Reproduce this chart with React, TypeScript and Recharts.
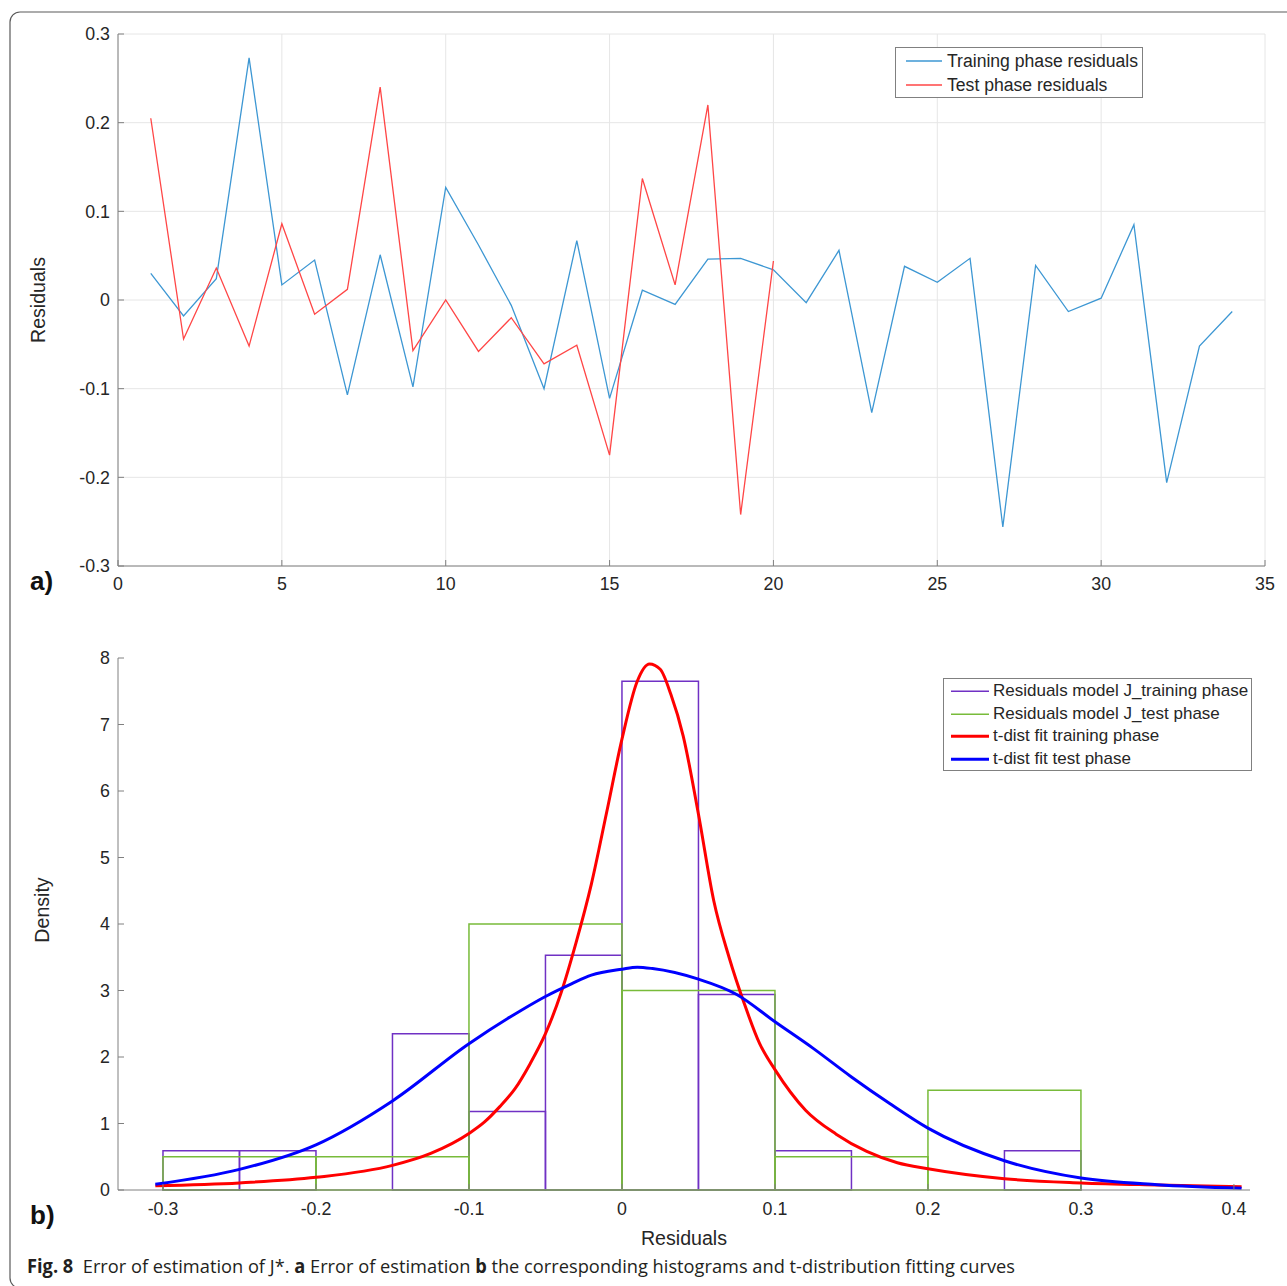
import React from 'react';
import {
  LineChart,
  ComposedChart,
  Line,
  XAxis,
  YAxis,
  CartesianGrid,
  Legend,
  ReferenceArea,
} from 'recharts';

const FONT = '"Liberation Sans", Arial, Helvetica, sans-serif';
const AXIS = '#808080';
const TEXT = '#262626';
const BLUE = '#3d97d3';
const RED = '#ff4646';
const PURPLE = '#7031c4';
const GREEN = '#78bb3a';

// ---- panel a: residuals per sample ----
const sampleIdx = [
  1, 2, 3, 4, 5, 6, 7, 8, 9, 10, 11, 12, 13, 14, 15, 16, 17,
  18, 19, 20, 21, 22, 23, 24, 25, 26, 27, 28, 29, 30, 31, 32, 33, 34,
];
const trainResid = [
  0.030, -0.018, 0.024, 0.273, 0.017, 0.045, -0.107, 0.051, -0.098, 0.127, 0.062, -0.006,
  -0.100, 0.067, -0.111, 0.011, -0.005, 0.046, 0.047, 0.034, -0.003, 0.056, -0.127, 0.038,
  0.020, 0.047, -0.256, 0.039, -0.013, 0.002, 0.085, -0.206, -0.052, -0.013,
];
const testResid = [
  0.205, -0.044, 0.036, -0.052, 0.086, -0.016, 0.012, 0.240, -0.057, 0.000,
  -0.058, -0.020, -0.072, -0.051, -0.175, 0.137, 0.017, 0.220, -0.242, 0.044,
];
const idxTicks = [0, 5, 10, 15, 20, 25, 30, 35];
const residTicks = [-0.3, -0.2, -0.1, 0, 0.1, 0.2, 0.3];

// ---- panel b: histograms + t fits ----
const trainEdges = [-0.3, -0.25, -0.2, -0.15, -0.1, -0.05, 0, 0.05, 0.1, 0.15, 0.2, 0.25, 0.3];
const trainDensity = [0.59, 0.59, 0, 2.35, 1.18, 3.53, 7.65, 2.94, 0.59, 0, 0, 0.59];
const testEdges = [-0.3, -0.2, -0.1, 0, 0.1, 0.2, 0.3];
const testDensity = [0.5, 0.5, 4, 3, 0.5, 1.5];

const redFitX = [
  -0.305, -0.25, -0.2, -0.15, -0.125, -0.1, -0.09, -0.08, -0.07, -0.06, -0.05, -0.04, -0.03,
  -0.02, -0.01, 0, 0.01, 0.018, 0.025, 0.032, 0.04, 0.05, 0.06, 0.07, 0.08, 0.09, 0.1, 0.12,
  0.14, 0.16, 0.18, 0.2, 0.25, 0.3, 0.35, 0.405,
];
const redFitY = [
  0.064, 0.107, 0.19, 0.37, 0.55, 0.85, 1.02, 1.25, 1.52, 1.9, 2.35, 2.95, 3.72,
  4.6, 5.68, 6.78, 7.65, 7.91, 7.83, 7.45, 6.83, 5.65, 4.35, 3.5, 2.8, 2.2, 1.81, 1.2,
  0.84, 0.58, 0.41, 0.32, 0.17, 0.107, 0.075, 0.048,
];
const blueFitX = [
  -0.305, -0.25, -0.2, -0.15, -0.1, -0.066, -0.05, -0.033, -0.02, 0, 0.01, 0.02, 0.05,
  0.075, 0.1, 0.125, 0.15, 0.175, 0.2, 0.25, 0.3, 0.35, 0.405,
];
const blueFitY = [
  0.086, 0.31, 0.68, 1.34, 2.2, 2.7, 2.91, 3.1, 3.23, 3.32, 3.35, 3.33, 3.17,
  2.94, 2.53, 2.13, 1.7, 1.3, 0.93, 0.44, 0.18, 0.08, 0.027,
];
const binTicks = [-0.3, -0.2, -0.1, 0, 0.1, 0.2, 0.3, 0.4];
const densTicks = [0, 1, 2, 3, 4, 5, 6, 7, 8];

const residualRows = sampleIdx.map((idx, i) => ({
  idx,
  train: trainResid[i],
  test: i < testResid.length ? testResid[i] : null,
}));
const trainBins = trainDensity
  .map((d, i) => ({ x1: trainEdges[i], x2: trainEdges[i + 1], d }))
  .filter((b) => b.d > 0);
const testBins = testDensity
  .map((d, i) => ({ x1: testEdges[i], x2: testEdges[i + 1], d }))
  .filter((b) => b.d > 0);
const redFit = redFitX.map((x, i) => ({ x, y: redFitY[i] }));
const blueFit = blueFitX.map((x, i) => ({ x, y: blueFitY[i] }));

const legendA = [
  { name: 'Training phase residuals', color: BLUE, width: 1.4 },
  { name: 'Test phase residuals', color: RED, width: 1.4 },
];
const legendB = [
  { name: 'Residuals model J_training phase', color: PURPLE, width: 1.4 },
  { name: 'Residuals model J_test phase', color: GREEN, width: 1.4 },
  { name: 't-dist fit training phase', color: '#ff0000', width: 3 },
  { name: 't-dist fit test phase', color: '#0000ff', width: 3 },
];

const TICK = 6; // inward tick length, matlab style
const TICK_FS = 17.8;

// tick renderers: recharts hands us the label anchor, we draw the inward mark back at the axis
const bottomTick = (gap) => (p) => (
  <g>
    <line x1={p.x} x2={p.x} y1={p.y - gap} y2={p.y - gap - TICK} stroke={AXIS} strokeWidth={1} />
    <text x={p.x} y={p.y} dy="0.71em" textAnchor="middle" fill={TEXT} fontSize={TICK_FS} fontFamily={FONT}>
      {String(p.payload.value)}
    </text>
  </g>
);
const leftTick = (gap) => (p) => (
  <g>
    <line x1={p.x + gap} x2={p.x + gap + TICK} y1={p.y} y2={p.y} stroke={AXIS} strokeWidth={1} />
    <text x={p.x} y={p.y} dy="0.355em" textAnchor="end" fill={TEXT} fontSize={TICK_FS} fontFamily={FONT}>
      {String(p.payload.value)}
    </text>
  </g>
);
const topTick = (p) => (
  <line x1={p.x} x2={p.x} y1={p.y} y2={p.y + TICK} stroke={AXIS} strokeWidth={1} />
);
const rightTick = (p) => (
  <line x1={p.x} x2={p.x - TICK} y1={p.y} y2={p.y} stroke={AXIS} strokeWidth={1} />
);

function LegendBox({ items, rowH, padL, lineLen, gap, fontSize }) {
  return (
    <div
      style={{
        border: `1px solid ${AXIS}`,
        background: '#fff',
        boxSizing: 'border-box',
        paddingTop: 1,
        fontFamily: FONT,
        fontSize,
        color: TEXT,
      }}
    >
      {items.map((it) => (
        <div
          key={it.name}
          style={{ display: 'flex', alignItems: 'center', height: rowH, whiteSpace: 'nowrap' }}
        >
          <svg width={padL + lineLen + gap} height={rowH} style={{ flex: 'none' }}>
            <line
              x1={padL}
              x2={padL + lineLen}
              y1={rowH / 2}
              y2={rowH / 2}
              stroke={it.color}
              strokeWidth={it.width}
            />
          </svg>
          <span>{it.name}</span>
        </div>
      ))}
    </div>
  );
}

function Caption() {
  const ref = React.useRef(null);
  const [sx, setSx] = React.useState(1);
  React.useLayoutEffect(() => {
    if (ref.current && ref.current.offsetWidth) setSx(988 / ref.current.offsetWidth);
  }, []);
  return (
    <div
      style={{
        position: 'absolute',
        left: 27,
        top: 1253,
        whiteSpace: 'pre',
        lineHeight: '26px',
        fontFamily: '"Open Sans", "Noto Sans", sans-serif',
        fontSize: 19,
        color: '#231f20',
        transform: `scaleX(${sx})`,
        transformOrigin: '0 0',
      }}
    >
      <span ref={ref}>
        <b>Fig. 8</b>
        {'  Error of estimation of J*. '}
        <b>a</b>
        {' Error of estimation '}
        <b>b</b>
        {' the corresponding histograms and t-distribution fitting curves'}
      </span>
    </div>
  );
}

export default function App() {
  return (
    <div style={{ position: 'absolute', left: 0, top: 0, width: 1287, height: 1286, background: '#fff' }}>
      <div style={{ position: 'absolute', left: 0, top: 0 }}>
        <LineChart
          width={1287}
          height={620}
          data={residualRows}
          margin={{ top: 34, right: 22, bottom: 0, left: 0 }}
        >
          <CartesianGrid stroke="#e6e6e6" />
          <XAxis
            dataKey="idx"
            type="number"
            domain={[0, 35]}
            ticks={idxTicks}
            interval={0}
            allowDataOverflow
            height={54}
            stroke={AXIS}
            tickLine={false}
            tickSize={0}
            tickMargin={11.6}
            tick={bottomTick(11.6)}
          />
          <XAxis
            xAxisId="top"
            orientation="top"
            type="number"
            domain={[0, 35]}
            ticks={idxTicks}
            interval={0}
            allowDataOverflow
            height={0}
            stroke={AXIS}
            tickLine={false}
            tickSize={0}
            tickMargin={0}
            tick={topTick}
          />
          <YAxis
            type="number"
            domain={[-0.3, 0.3]}
            ticks={residTicks}
            interval={0}
            allowDataOverflow
            width={118}
            stroke={AXIS}
            tickLine={false}
            tickSize={0}
            tickMargin={8}
            tick={leftTick(8)}
            label={{
              value: 'Residuals',
              angle: -90,
              position: 'insideLeft',
              offset: 38,
              style: { textAnchor: 'middle', fill: TEXT, fontSize: 19.6, fontFamily: FONT },
            }}
          />
          <YAxis
            yAxisId="right"
            orientation="right"
            type="number"
            domain={[-0.3, 0.3]}
            ticks={residTicks}
            interval={0}
            allowDataOverflow
            width={0}
            stroke={AXIS}
            tickLine={false}
            tickSize={0}
            tickMargin={0}
            tick={rightTick}
          />
          <Line
            dataKey="train"
            type="linear"
            stroke={BLUE}
            strokeWidth={1.3}
            dot={false}
            isAnimationActive={false}
          />
          <Line
            dataKey="test"
            type="linear"
            stroke={RED}
            strokeWidth={1.3}
            dot={false}
            isAnimationActive={false}
          />
          <Legend
            verticalAlign="middle"
            align="center"
            wrapperStyle={{ left: 895, top: 47, width: 248, height: 51 }}
            content={() => (
              <LegendBox items={legendA} rowH={24} padL={10} lineLen={36} gap={5} fontSize={17.6} />
            )}
          />
        </LineChart>
      </div>

      <div style={{ position: 'absolute', left: 0, top: 620 }}>
        <ComposedChart width={1287} height={666} margin={{ top: 38, right: 37, bottom: 0, left: 0 }}>
          <XAxis
            dataKey="x"
            type="number"
            domain={[-0.3294, 0.4105]}
            ticks={binTicks}
            interval={0}
            allowDataOverflow
            height={96}
            stroke={AXIS}
            tickLine={false}
            tickSize={0}
            tickMargin={12.5}
            tick={bottomTick(12.5)}
            label={{
              value: 'Residuals',
              position: 'insideBottom',
              offset: 41,
              style: { fill: TEXT, fontSize: 19.6, fontFamily: FONT },
            }}
          />
          <XAxis
            xAxisId="top"
            orientation="top"
            type="number"
            domain={[-0.3294, 0.4105]}
            ticks={binTicks}
            interval={0}
            allowDataOverflow
            height={0}
            stroke={AXIS}
            tickLine={false}
            tickSize={0}
            tickMargin={0}
            tick={topTick}
          />
          <YAxis
            type="number"
            domain={[0, 8]}
            ticks={densTicks}
            interval={0}
            allowDataOverflow
            width={118}
            stroke={AXIS}
            tickLine={false}
            tickSize={0}
            tickMargin={8}
            tick={leftTick(8)}
            label={{
              value: 'Density',
              angle: -90,
              position: 'insideLeft',
              offset: 42,
              dy: -14,
              style: { textAnchor: 'middle', fill: TEXT, fontSize: 19.6, fontFamily: FONT },
            }}
          />
          <YAxis
            yAxisId="right"
            orientation="right"
            type="number"
            domain={[0, 8]}
            ticks={densTicks}
            interval={0}
            allowDataOverflow
            width={0}
            stroke={AXIS}
            tickLine={false}
            tickSize={0}
            tickMargin={0}
            tick={rightTick}
          />
          {trainBins.map((b) => (
            <ReferenceArea
              key={`tr${b.x1}`}
              x1={b.x1}
              x2={b.x2}
              y1={0}
              y2={b.d}
              fill="none"
              fillOpacity={0}
              stroke={PURPLE}
              strokeWidth={1.5}
              strokeOpacity={1}
            />
          ))}
          {testBins.map((b) => (
            <ReferenceArea
              key={`te${b.x1}`}
              x1={b.x1}
              x2={b.x2}
              y1={0}
              y2={b.d}
              fill="none"
              fillOpacity={0}
              stroke={GREEN}
              strokeWidth={1.5}
              strokeOpacity={1}
            />
          ))}
          <Line
            data={redFit}
            dataKey="y"
            type="monotone"
            stroke="#ff0000"
            strokeWidth={3}
            dot={false}
            isAnimationActive={false}
          />
          <Line
            data={blueFit}
            dataKey="y"
            type="monotone"
            stroke="#0000ff"
            strokeWidth={3}
            dot={false}
            isAnimationActive={false}
          />
          <Legend
            verticalAlign="middle"
            align="center"
            wrapperStyle={{ left: 943, top: 58, width: 309, height: 92 }}
            content={() => (
              <LegendBox items={legendB} rowH={22.5} padL={7} lineLen={38} gap={4} fontSize={17} />
            )}
          />
        </ComposedChart>
      </div>

      <svg
        width={1287}
        height={1286}
        style={{ position: 'absolute', left: 0, top: 0, pointerEvents: 'none' }}
      >
        <rect x={10} y={12} width={1320} height={1276} rx={10} fill="none" stroke="#5a5a5a" strokeWidth={1.2} />
        <text x={30} y={590} fontFamily={FONT} fontWeight={700} fontSize={26} fill="#111">
          a)
        </text>
        <text x={30} y={1224} fontFamily={FONT} fontWeight={700} fontSize={26} fill="#111">
          b)
        </text>
      </svg>
      <Caption />
    </div>
  );
}
